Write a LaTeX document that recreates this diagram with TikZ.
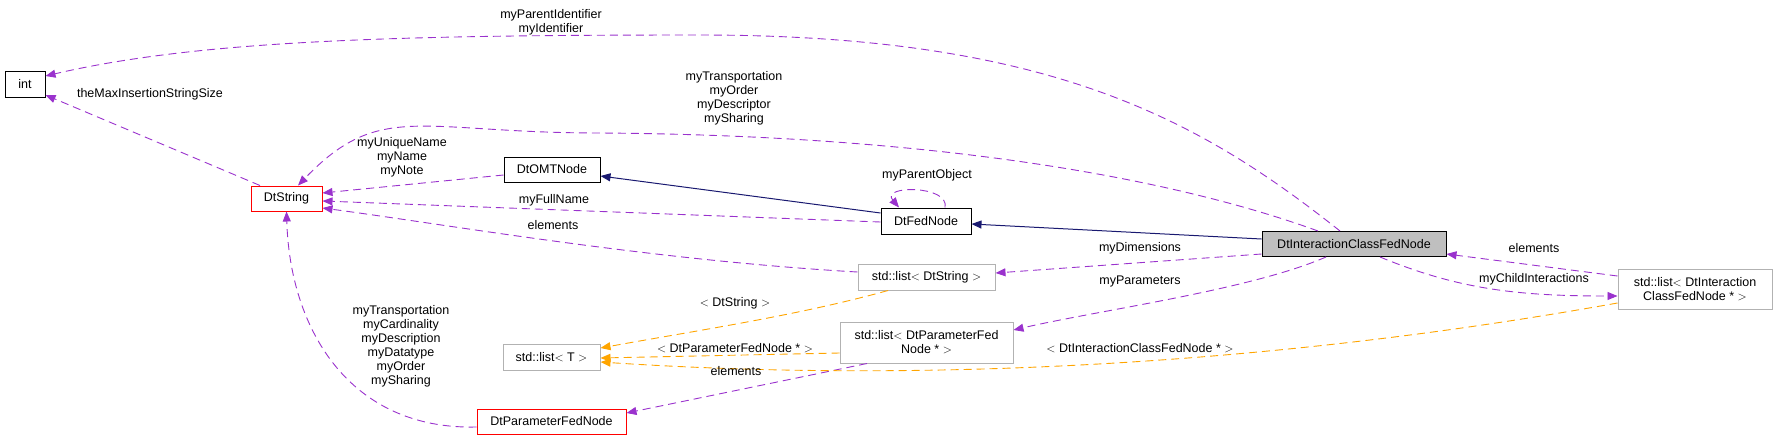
\documentclass[tikz,border=0pt]{standalone}
\usepackage{fontspec}
\setmainfont{Liberation Sans}
\usetikzlibrary{arrows.meta,positioning}

\definecolor{usecol}{HTML}{9A32CD}
\definecolor{tplcol}{HTML}{FFA500}
\definecolor{inhcol}{HTML}{191970}

\tikzset{
  cls/.style={rectangle, draw=black, line width=1pt, inner sep=0pt, font=\fontsize{12.5}{14}\selectfont, align=center},
  redcls/.style={cls, draw=red},
  tplcls/.style={cls, draw=black!30},
  usedep/.style={draw=usecol, dashed, dash pattern=on 8pt off 5pt, line width=0.9pt, -{Triangle[length=10pt,width=8pt]}},
  tpldep/.style={usedep, draw=tplcol},
  inhdep/.style={draw=inhcol, line width=1pt, -{Triangle[length=10pt,width=8pt]}},
  lbl/.style={font=\fontsize{12.5}{14}\selectfont, align=center, inner sep=0pt}
}

\begin{document}
\begin{tikzpicture}[x=1pt, y=-1pt]
    \useasboundingbox (0,0) rectangle (1773,440);

    % Nodes
    \node[cls, minimum width=40pt, minimum height=26pt] (int) at (25,84) {int};
    \node[redcls, minimum width=71pt, minimum height=25pt] (dtstring) at (286.5,198.5) {DtString};
    \node[cls, minimum width=96pt, minimum height=25pt] (omt) at (552,169.5) {DtOMTNode};
    \node[cls, minimum width=90pt, minimum height=26pt] (fed) at (926,221) {DtFedNode};
    \node[cls, fill=black!25, minimum width=184pt, minimum height=25pt] (icfn) at (1354,244) {DtInteractionClassFedNode};
    \node[tplcls, minimum width=137pt, minimum height=26pt] (liststr) at (926.5,277) {std::list$<$ DtString $>$};
    \node[tplcls, minimum width=97pt, minimum height=26pt] (listt) at (551.5,357) {std::list$<$ T $>$};
    \node[tplcls, minimum width=173pt, minimum height=41pt] (listparam) at (926.5,342.5) {std::list$<$ DtParameterFed\\Node * $>$};
    \node[tplcls, minimum width=154pt, minimum height=40pt] (listicfn) at (1695,289) {std::list$<$ DtInteraction\\ClassFedNode * $>$};
    \node[redcls, minimum width=149pt, minimum height=25pt] (param) at (551.5,421.5) {DtParameterFedNode};

    % Inheritance
    \draw[inhdep] (fed.west |- 0,213) -- (omt.east |- 0,176);
    \draw[inhdep] (icfn.west |- 0,239) -- (fed.east |- 0,224);

    % Usage
    \draw[usedep] (icfn.north -| 1340,0) .. controls (1200,120) and (1050,35) .. (700,35) .. controls (400,35) and (200,40) .. (int.east |- 0,76);
    \draw[usedep] (dtstring.north -| 260,0) -- (int.east |- 0,95);
    \draw[usedep] (icfn.north -| 1318,0) .. controls (1150,170) and (900,135) .. (600,133) .. controls (420,133) and (380,100) .. (dtstring.north -| 298,0);
    \draw[usedep] (omt.west |- 0,175) -- (dtstring.east |- 0,193);
    \draw[usedep] (fed.west |- 0,222) -- (dtstring.east |- 0,201);
    \draw[usedep] (liststr.west |- 0,272) .. controls (650,260) and (450,225) .. (dtstring.east |- 0,208);
    \draw[usedep] (param.west |- 0,427) .. controls (350,430) and (290,330) .. (dtstring.south);
    \draw[usedep] (fed.north -| 945,0) .. controls (950,185) and (880,185) .. (fed.north -| 899,0);
    \draw[usedep] (icfn.west |- 0,254) -- (liststr.east |- 0,273);
    \draw[usedep] (icfn.south -| 1326,0) .. controls (1250,290) and (1100,310) .. (listparam.east |- 0,330);
    \draw[usedep] (listparam.south -| 867,0) -- (param.east |- 0,413);
    \draw[usedep] (listicfn.west |- 0,276) -- (icfn.east |- 0,254);
    \draw[usedep] (icfn.south -| 1380,0) .. controls (1460,290) and (1520,296) .. (listicfn.west |- 0,296);

    % Templates
    \draw[tpldep] (liststr.south -| 888,0) .. controls (800,315) and (700,330) .. (listt.east |- 0,348);
    \draw[tpldep] (listparam.west |- 0,353) -- (listt.east |- 0,358);
    \draw[tpldep] (listicfn.west |- 0,303) .. controls (1300,360) and (950,385) .. (listt.east |- 0,362);

    % Labels
    \node[lbl] (lparentid) at (551,22) {myParentIdentifier\\myIdentifier};
    \node[lbl] (lmaxins) at (150,94) {theMaxInsertionStringSize};
    \node[lbl] (ltransp) at (734,98) {myTransportation\\myOrder\\myDescriptor\\mySharing};
    \node[lbl] (lunique) at (402,157) {myUniqueName\\myName\\myNote};
    \node[lbl] (lfullname) at (554,200) {myFullName};
    \node[lbl] (lelemstr) at (553,225) {elements};
    \node[lbl] (lparamattr) at (401,346) {myTransportation\\myCardinality\\myDescription\\myDatatype\\myOrder\\mySharing};
    \node[lbl] (lparent) at (927,175) {myParentObject};
    \node[lbl] (ldims) at (1140,248) {myDimensions};
    \node[lbl] (lparams) at (1140,281) {myParameters};
    \node[lbl] (ltstr) at (735,303) {$<$ DtString $>$};
    \node[lbl] (ltparam) at (735,348) {$<$ DtParameterFedNode * $>$};
    \node[lbl] (lticfn) at (1140,348) {$<$ DtInteractionClassFedNode * $>$};
    \node[lbl] (lelemparam) at (736,371) {elements};
    \node[lbl] (lelemicfn) at (1534,248) {elements};
    \node[lbl] (lchild) at (1534,279) {myChildInteractions};
\end{tikzpicture}
\end{document}
